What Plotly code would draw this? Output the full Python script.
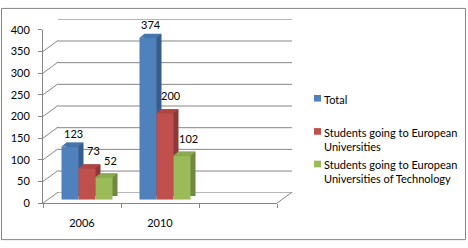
import plotly.graph_objects as go

# ---------------- data ----------------
categories = ["2006", "2010"]
axis_slots = ["2006", "2010", " "]          # third (empty) category slot on the axis
series_names = [
    "Total",
    "Students going to European<br>Universities",
    "Students going to European<br>Universities of Technology",
]
total = [123, 374]
european = [73, 200]
european_tech = [52, 102]
y_ticks = [0, 50, 100, 150, 200, 250, 300, 350, 400]

series_values = [total, european, european_tech]

# ---------------- style ----------------
W, H = 468, 248
FONT = "Lato"
FS = 11
GRAY = "#868686"
front_cols = ["#4F81BD", "#C0504D", "#9BBB59"]
side_cols = ["#385D8A", "#8C3836", "#71893F"]
top_cols = ["#4674AD", "#AE4643", "#8CAB50"]

# front plane of the plot (pixels)
PX0, PX1, PY0, PY1 = 43, 277, 24, 207
WALL = (15, 11)       # depth of the back wall
BAR_OFF = (5, 3.5)    # bars' front faces sit in the middle of the depth
BAR_D = (5, 4)        # bar depth
BARGAP = 0.346


def xdom(dx):
    return [(PX0 + dx) / W, (PX1 + dx) / W]


def ydom(dy):
    return [1 - (PY1 - dy) / H, 1 - (PY0 - dy) / H]


fig = go.Figure()

# back faces (side + top depth) of the bars
for i, vals in enumerate(series_values):
    fig.add_trace(go.Bar(x=categories, y=vals, xaxis="x3", yaxis="y3",
                         marker=dict(color=side_cols[i], line=dict(width=0)),
                         showlegend=False, hoverinfo="skip"))
# front faces of the bars
for i, vals in enumerate(series_values):
    fig.add_trace(go.Bar(x=categories, y=vals, xaxis="x4", yaxis="y4",
                         name=series_names[i].replace("<br>", " "),
                         marker=dict(color=front_cols[i], line=dict(width=0)),
                         showlegend=False))

hidden = dict(visible=False, type="category", categoryorder="array",
              categoryarray=axis_slots, range=[-0.5, 2.5], fixedrange=True)
hidden_y = dict(visible=False, range=[0, 400], fixedrange=True)

fig.update_layout(
    width=W, height=H,
    margin=dict(l=0, r=0, t=0, b=0),
    paper_bgcolor="white", plot_bgcolor="rgba(0,0,0,0)",
    font=dict(family=FONT, size=FS, color="black"),
    barmode="group", bargap=BARGAP, bargroupgap=0,
    showlegend=False,
    xaxis=dict(domain=xdom(0), anchor="y", type="category", categoryorder="array",
               categoryarray=axis_slots, range=[-0.5, 2.5], tickson="boundaries",
               ticks="outside", ticklen=4, tickcolor=GRAY, showline=True,
               linecolor=GRAY, linewidth=1, showgrid=False, ticklabelstandoff=10,
               tickfont=dict(family=FONT, size=FS, color="black"), fixedrange=True),
    yaxis=dict(domain=ydom(0), anchor="x", range=[0, 400], tickvals=y_ticks,
               ticks="outside", ticklen=4, tickcolor=GRAY, showline=True,
               linecolor=GRAY, linewidth=1, showgrid=False, zeroline=False,
               ticklabelstandoff=6,
               tickfont=dict(family=FONT, size=FS, color="black"), fixedrange=True),
    xaxis2=dict(hidden, domain=xdom(WALL[0]), anchor="y2"),
    yaxis2=dict(hidden_y, domain=ydom(WALL[1]), anchor="x2"),
    xaxis3=dict(hidden, domain=xdom(BAR_OFF[0] + BAR_D[0]), anchor="y3"),
    yaxis3=dict(hidden_y, domain=ydom(BAR_OFF[1] + BAR_D[1]), anchor="x3"),
    xaxis4=dict(hidden, domain=xdom(BAR_OFF[0]), anchor="y4"),
    yaxis4=dict(hidden_y, domain=ydom(BAR_OFF[1]), anchor="x4"),
)

shapes = []
# back wall gridlines + side-wall diagonals
for v in y_ticks:
    shapes.append(dict(type="line", xref="x2 domain", yref="y2", x0=0, x1=1, y0=v, y1=v,
                       line=dict(color=GRAY, width=1), layer="below"))
    shapes.append(dict(type="line", xref="x domain", yref="y", xsizemode="pixel",
                       ysizemode="pixel", xanchor=0, yanchor=v, x0=0, x1=WALL[0],
                       y0=0, y1=WALL[1], line=dict(color=GRAY, width=1), layer="below"))
# floor right edge
shapes.append(dict(type="line", xref="x domain", yref="y", xsizemode="pixel",
                   ysizemode="pixel", xanchor=1, yanchor=0, x0=0, x1=WALL[0],
                   y0=0, y1=WALL[1], line=dict(color=GRAY, width=1), layer="below"))

# top faces of the bars
bw = (1 - BARGAP) / 3
bw_px = bw * (PX1 - PX0) / len(axis_slots)
for i, vals in enumerate(series_values):
    for c, v in enumerate(vals):
        left = c - (1 - BARGAP) / 2 + i * bw
        path = (f"M0,0 L{bw_px:.2f},0 L{bw_px + BAR_D[0]:.2f},{BAR_D[1]} "
                f"L{BAR_D[0]},{BAR_D[1]} Z")
        shapes.append(dict(type="path", xref="x4", yref="y4", xsizemode="pixel",
                           ysizemode="pixel", xanchor=left, yanchor=v, path=path,
                           fillcolor=top_cols[i], line=dict(width=0), layer="above"))

# outer chart border
shapes.append(dict(type="rect", xref="paper", yref="paper", x0=1.5 / W, x1=465.5 / W,
                   y0=1 - 245.5 / H, y1=1 - 1.5 / H, line=dict(color=GRAY, width=1),
                   layer="below"))

annotations = []
# data labels
label_xshift = [3, 6, 6]
label_yshift = [13, 18, 17]
for i, vals in enumerate(series_values):
    for c, v in enumerate(vals):
        annotations.append(dict(xref="x4", yref="y4", x=c + (i - 1) * bw, y=v,
                                text=str(v), showarrow=False, xanchor="center",
                                yanchor="middle", xshift=label_xshift[i],
                                yshift=label_yshift[i],
                                font=dict(family=FONT, size=FS, color="black")))

# legend (manual, to match the original's compact layout)
legend_rows = [96.3, 131.3, 165.7]
for i, name in enumerate(series_names):
    yc = legend_rows[i]
    shapes.append(dict(type="rect", xref="paper", yref="paper",
                       x0=314 / W, x1=321 / W, y0=1 - (yc + 3.5) / H, y1=1 - (yc - 3.5) / H,
                       fillcolor=front_cols[i], line=dict(width=0)))
    annotations.append(dict(xref="paper", yref="paper", x=321.5 / W,
                            y=1 - (yc - 8) / H, text=name, showarrow=False,
                            xanchor="left", yanchor="top", align="left",
                            font=dict(family=FONT, size=FS, color="black")))

fig.update_layout(shapes=shapes, annotations=annotations)

fig.write_html("out.html", config={"displayModeBar": False},
               post_script="document.body.style.margin='0';")
